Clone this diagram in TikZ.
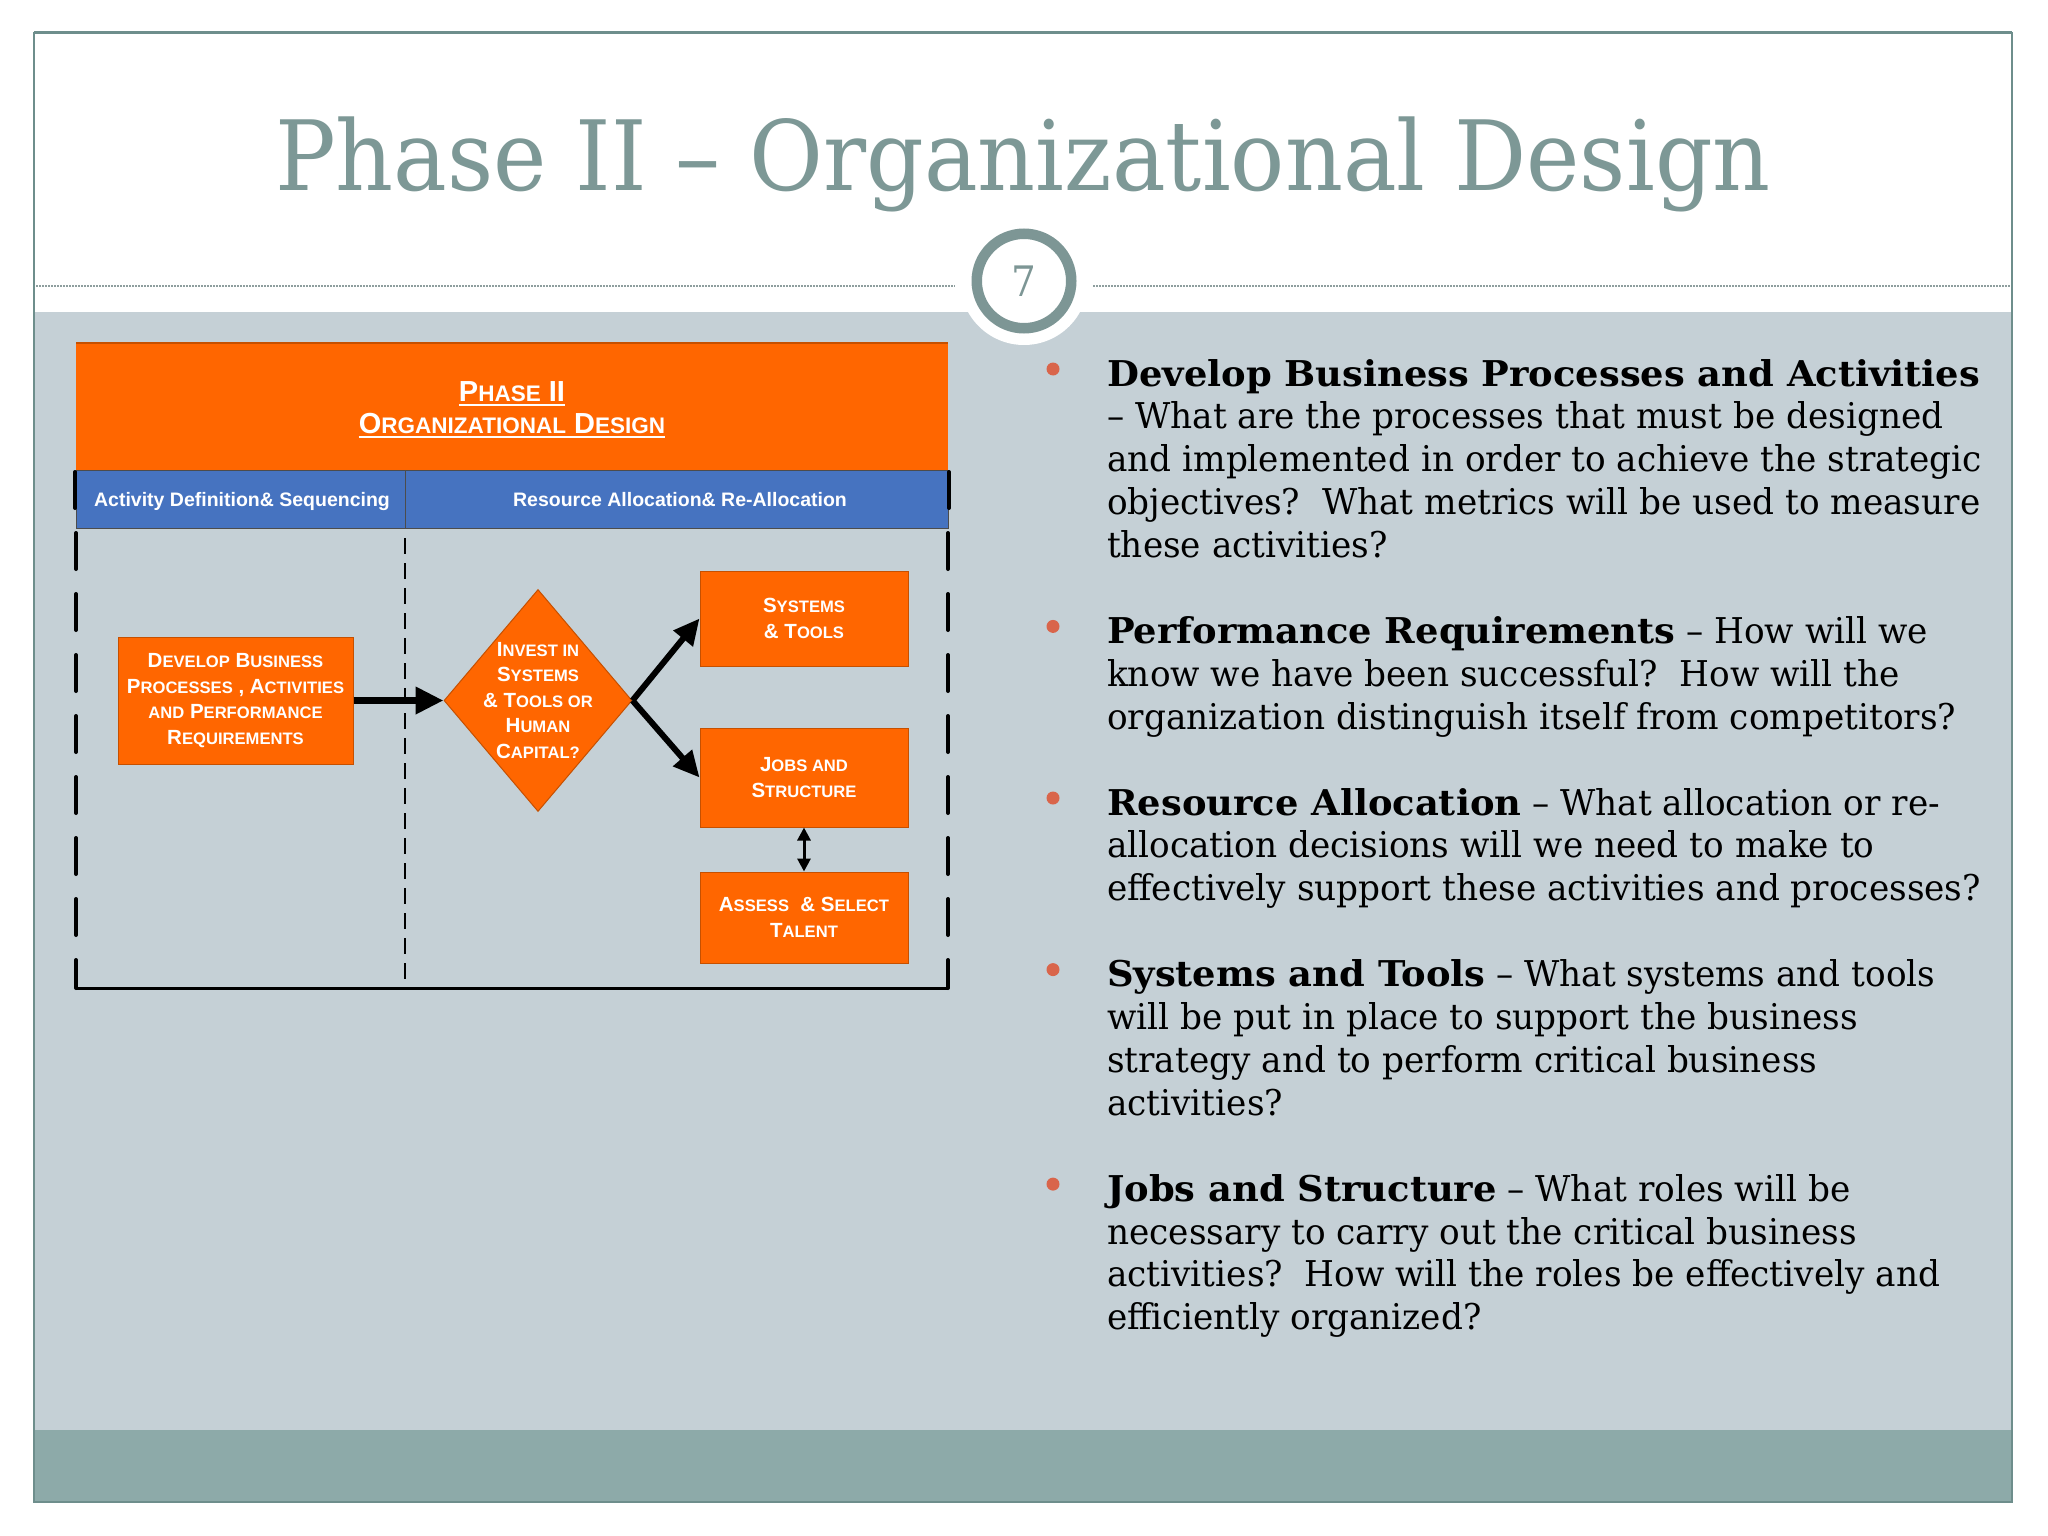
\documentclass[tikz,border=0pt]{standalone}
\usepackage{fontspec}
\setmainfont{DejaVu Serif}
\newfontfamily\gfont[FakeStretch=0.966]{DejaVu Serif}
\newfontfamily\gbfont[FakeStretch=1.038]{DejaVu Serif}
\newfontfamily\tfont[FakeStretch=0.929]{DejaVu Serif}
\newfontfamily\dfont{Liberation Sans}
\usetikzlibrary{arrows.meta,shapes.geometric}
\definecolor{bgc}{HTML}{C5D0D6}
\definecolor{bandc}{HTML}{8DAAA9}
\definecolor{framec}{HTML}{6E8E8C}
\definecolor{titlec}{HTML}{7D9896}
\definecolor{ringc}{HTML}{7D9695}
\definecolor{dotc}{HTML}{8E9E9E}
\definecolor{orng}{HTML}{FF6600}
\definecolor{orngd}{HTML}{C65000}
\definecolor{bluec}{HTML}{4673C0}
\definecolor{bulc}{HTML}{D9654B}
\newcommand\dsc[1]{{\fontsize{16.6}{16.6}\selectfont #1}}
\newcommand\hsc[1]{{\fontsize{22.5}{22.5}\selectfont #1}}
\newcommand\hd[1]{{\gbfont\bfseries #1}}
\begin{document}
\begin{tikzpicture}[x=1pt,y=-1pt,
  obox/.style={draw=orngd, line width=1, fill=orng, text=white, align=center, inner sep=0,
     font=\dfont\bfseries\fontsize{20.5}{25.5}\selectfont},
  dtxt/.style={text=white, align=center, inner sep=0, font=\dfont\bfseries\fontsize{20.5}{25.5}\selectfont},
  bandtxt/.style={text=white, inner sep=0, anchor=base, font=\dfont\bfseries\fontsize{19.5}{19.5}\selectfont},
  htxt/.style={text=white, inner sep=0, anchor=base, font=\dfont\bfseries\fontsize{29}{29}\selectfont},
  bline/.style={anchor=base west, inner sep=0, font=\gfont\fontsize{35.5}{42.9}\selectfont},
  bdot/.style={circle, fill=bulc, inner sep=0, minimum size=13},
  bigarrow/.style={line width=7, -{Triangle[length=28pt,width=26pt]}},
  diagarrow/.style={line width=6, -{Triangle[length=26pt,width=24pt]}},
]
\useasboundingbox (0,0) rectangle (2048,1536);
\fill[white] (0,0) rectangle (2048,1536);
\fill[bgc] (34,312) rectangle (2012,1430);
\fill[bandc] (34,1430) rectangle (2012,1502);
\draw[framec, line width=1.5] (34,33) rectangle (2012,1502);
\draw[framec, line width=3] (34,33) -- (2012,33);
\draw[dotc, line width=2, dash pattern=on 1.5pt off 1.5pt] (36,286) -- (955,286) (1093,286) -- (2010,286);
\fill[white] (1024,281) circle (64);
\node[circle, draw=ringc, line width=10.5, fill=white, minimum size=94.5, inner sep=0, text=ringc, font=\tfont\fontsize{42}{42}\selectfont] (pg) at (1024,281) {7};
\node[anchor=base, text=titlec, inner sep=0, font=\tfont\fontsize{97}{97}\selectfont] (title) at (1023,190) {Phase II – Organizational Design};

% diagram header
\fill[orng] (76,343) rectangle (948,470);
\draw[orngd, line width=1.5] (76,343) -- (948,343);
\node[htxt] (h1) at (512,401) {P\hsc{HASE} II};
\node[htxt] (h2) at (512,433) {O\hsc{RGANIZATIONAL} D\hsc{ESIGN}};
\draw[white, line width=2] ([yshift=-4pt]h1.base west) -- ([yshift=-4pt]h1.base east);
\draw[white, line width=2] ([yshift=-4pt]h2.base west) -- ([yshift=-4pt]h2.base east);

\fill[bluec] (76,470) rectangle (948,528);
\draw[black!70, line width=1] (76,470) rectangle (948,528) (405,470) -- (405,528);
\draw[black, line width=4, line cap=round] (75,472) -- (75,508) (949,472) -- (949,508);
\node[bandtxt] (c1) at (242,506) {Activity Definition\& Sequencing};
\node[bandtxt] (c2) at (680,506) {Resource Allocation\& Re-Allocation};

\draw[line width=4, line cap=round, dash pattern=on 36pt off 25pt] (76,533) -- (76,988);
\draw[line width=4, line cap=round, dash pattern=on 36pt off 25pt] (948,533) -- (948,988);
\draw[line width=2.5, dash pattern=on 16pt off 9pt] (405,538) -- (405,986);
\draw[line width=3] (76,988) -- (948,988);

\node[obox, minimum width=235, minimum height=127] (dev) at (235.5,700.5) {D\dsc{EVELOP} B\dsc{USINESS}\\ P\dsc{ROCESSES} , A\dsc{CTIVITIES}\\ \dsc{AND} P\dsc{ERFORMANCE}\\ R\dsc{EQUIREMENTS}};
\node[diamond, draw=orngd, line width=1, fill=orng, minimum width=188, minimum height=222, inner sep=0] (dia) at (538,700.5) {};
\node[dtxt] (diat) at (538,700.5) {I\dsc{NVEST IN}\\ S\dsc{YSTEMS}\\ \& T\dsc{OOLS OR}\\ H\dsc{UMAN}\\ C\dsc{APITAL?}};
\node[obox, minimum width=208, minimum height=95] (sys) at (804,618.5) {S\dsc{YSTEMS}\\ \& T\dsc{OOLS}};
\node[obox, minimum width=208, minimum height=99] (jobs) at (804,777.5) {J\dsc{OBS AND}\\ S\dsc{TRUCTURE}};
\node[obox, minimum width=208, minimum height=91] (ass) at (804,917.5) {A\dsc{SSESS}\ \ \& S\dsc{ELECT}\\ T\dsc{ALENT}};

\draw[bigarrow] (dev.east) -- (dia.west);
\draw[diagarrow] (dia.east) -- (sys.west);
\draw[diagarrow] (dia.east) -- (jobs.west);
\draw[line width=3, {Triangle[length=13pt,width=13pt]}-{Triangle[length=13pt,width=13pt]}] (jobs.south) -- (ass.north);

% bullets
\foreach \i/\t in {
 0/{\hd{Develop Business Processes and Activities}},
 1/{– What are the processes that must be designed},
 2/{and implemented in order to achieve the strategic},
 3/{objectives?\ \ What metrics will be used to measure},
 4/{these activities?},
 6/{\hd{Performance Requirements} – How will we},
 7/{know we have been successful?\ \ How will the},
 8/{organization distinguish itself from competitors?},
 10/{\hd{Resource Allocation} – What allocation or re-},
 11/{allocation decisions will we need to make to},
 12/{effectively support these activities and processes?},
 14/{\hd{Systems and Tools} – What systems and tools},
 15/{will be put in place to support the business},
 16/{strategy and to perform critical business},
 17/{activities?},
 19/{\hd{Jobs and Structure} – What roles will be},
 20/{necessary to carry out the critical business},
 21/{activities?\ \ How will the roles be effectively and},
 22/{efficiently organized?}}
 \node[bline] (t\i) at (1107,{386+\i*42.9}) {\t};
\foreach \i in {0,6,10,14,19}
 \node[bdot] (d\i) at (1053,{386+\i*42.9-17}) {};
\end{tikzpicture}
\end{document}
